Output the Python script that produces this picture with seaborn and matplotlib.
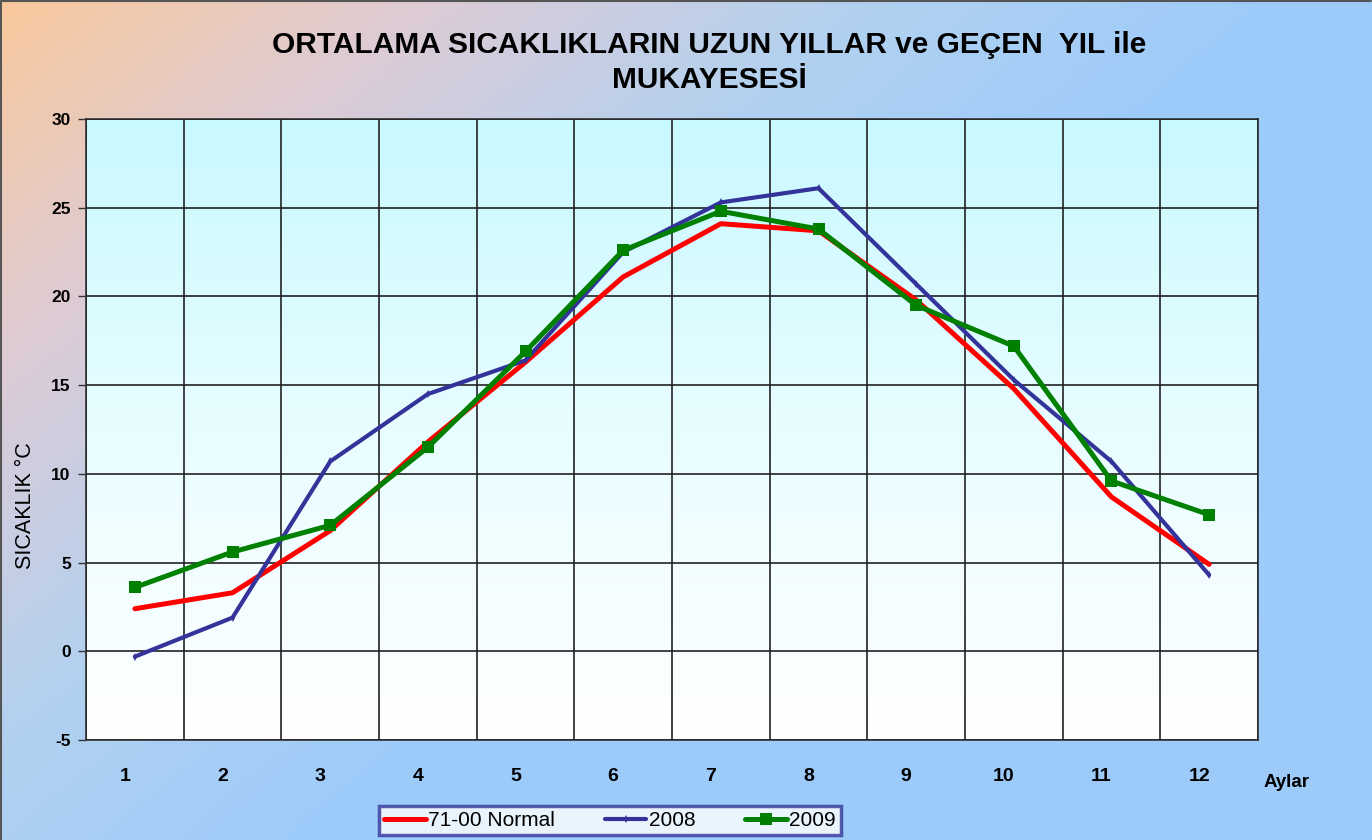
import numpy as np
import pandas as pd
import seaborn as sns
import matplotlib.pyplot as plt
import matplotlib.transforms as mtransforms
from matplotlib.colors import LinearSegmentedColormap
from matplotlib.ticker import FixedLocator

months = list(range(1, 13))
normal_71_00 = [2.4, 3.3, 6.8, 11.8, 16.3, 21.1, 24.1, 23.7, 19.8, 14.8, 8.7, 4.9]
y2008 = [-0.3, 1.9, 10.7, 14.5, 16.4, 22.5, 25.3, 26.1, 20.7, 15.3, 10.7, 4.3]
y2009 = [3.6, 5.6, 7.1, 11.5, 16.9, 22.6, 24.8, 23.8, 19.5, 17.2, 9.6, 7.7]

df = pd.DataFrame({'Ay': months, '71-00 Normal': normal_71_00,
                   '2008': y2008, '2009': y2009})

sns.set_style('white')
plt.rcParams['font.family'] = ['Liberation Sans', 'DejaVu Sans']
plt.rcParams['axes.unicode_minus'] = False
plt.rcParams['text.color'] = 'black'

fig = plt.figure(figsize=(13.72, 8.4), dpi=100)

# figure background: peach top-left -> light blue right/bottom
bg = fig.add_axes([0, 0, 1, 1], zorder=-2)
gx, gy = np.meshgrid(np.linspace(0, 1, 300), np.linspace(0, 1, 200))
t = np.clip(gx * 1.05 + gy * 0.75, 0, 1)
bg_cmap = LinearSegmentedColormap.from_list('bg', ['#f9c89c', '#dccbd6', '#b2d1f0', '#9ccbfa'])
bg.imshow(t, cmap=bg_cmap, aspect='auto', extent=[0, 1, 0, 1], origin='upper')
bg.set_axis_off()
bg.plot([0.001, 0.001, 0.999], [0, 0.999, 0.999], color='#555555', lw=1.5, transform=bg.transAxes)

ax = fig.add_axes([0.0627, 0.119, 0.8542, 0.7393])
ax.set_xlim(0.5, 12.5)
ax.set_ylim(-5, 30)

# plot area gradient: light cyan -> white
pa = np.linspace(0, 1, 200).reshape(-1, 1)
pa_cmap = LinearSegmentedColormap.from_list('pa', ['#c8f9ff', '#e8fdff', '#ffffff'])
ax.imshow(pa, cmap=pa_cmap, aspect='auto', extent=[0.5, 12.5, -5, 30], origin='upper', zorder=0)

sns.lineplot(data=df, x='Ay', y='71-00 Normal', ax=ax, color='#ff0000', lw=3.6,
             label='71-00 Normal', zorder=3)
sns.lineplot(data=df, x='Ay', y='2008', ax=ax, color='#333399', lw=3, marker='d',
             markersize=4, markeredgewidth=0, label='2008', zorder=4)
sns.lineplot(data=df, x='Ay', y='2009', ax=ax, color='#008000', lw=3.6, marker='s',
             markersize=8, markeredgewidth=0, label='2009', zorder=5)

ax.set_xlim(0.5, 12.5)
ax.set_ylim(-5, 30)

# grid lines between categories, labels at centres
ax.xaxis.set_major_locator(FixedLocator(months))
ax.xaxis.set_minor_locator(FixedLocator(np.arange(0.5, 13, 1)))
ax.set_yticks(np.arange(-5, 31, 5))
ax.grid(True, which='minor', axis='x', color='#222222', lw=1.2)
ax.grid(True, which='major', axis='y', color='#222222', lw=1.2)
ax.grid(False, which='major', axis='x')
ax.set_axisbelow(False)

ax.tick_params(axis='x', which='major', length=0, pad=20, labelsize=14, labelcolor='black')
ax.tick_params(axis='x', which='minor', length=0)
ax.tick_params(axis='y', length=6, width=1, color='#333333', pad=5, labelsize=12.5,
               left=True, labelcolor='black')
shift = mtransforms.ScaledTranslation(-0.1, 0, fig.dpi_scale_trans)
for lbl in ax.get_xticklabels():
    lbl.set_fontweight('bold')
    lbl.set_transform(lbl.get_transform() + shift)
for lbl in ax.get_yticklabels():
    lbl.set_fontweight('bold')
for s in ax.spines.values():
    s.set_color('#333333')
    s.set_linewidth(1.2)

ax.set_xlabel('')
ax.set_ylabel('SICAKLIK °C', fontsize=15.5, color='black')
ax.yaxis.set_label_coords(-0.043, 0.377)

fig.text(0.938, 0.068, 'Aylar', fontsize=13.5, fontweight='bold', ha='center', va='center')

fig.text(0.517, 0.946, 'ORTALAMA SICAKLIKLARIN UZUN YILLAR ve GEÇEN  YIL ile',
         fontsize=21.5, fontweight='bold', ha='center', va='center')
fig.text(0.517, 0.905, 'MUKAYESESİ', fontsize=21.5, fontweight='bold', ha='center', va='center')

leg = ax.legend(loc='center', bbox_to_anchor=(0.447, -0.130), ncol=3, frameon=True,
                fancybox=False, edgecolor='#333399', fontsize=15, handlelength=2,
                handletextpad=0.1, columnspacing=2.4, borderpad=0.25)
leg.get_frame().set_linewidth(2.5)
leg.get_frame().set_facecolor('white')

fig.savefig('out.png', dpi=100)
